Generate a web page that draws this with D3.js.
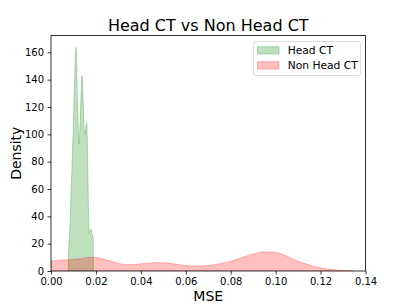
<!DOCTYPE html>
<html><head><meta charset="utf-8">
<script src="https://cdn.jsdelivr.net/npm/d3@7"></script>
<style>body{margin:0;background:#fff}svg{display:block}text{font-family:"DejaVu Sans",sans-serif}</style>
</head><body><svg id="c" width="407" height="305"></svg>
<script>
const title = "Head CT vs Non Head CT";
const seriesNames = ["Head CT", "Non Head CT"];
const headX = [0.00771,0.00772,0.0085,0.0093,0.0100,0.0106,0.01115,0.0118,0.01248,0.0130,0.01382,0.0143,0.01502,0.0155,0.01592,0.0163,0.0167,0.01708,0.01745,0.01783,0.0183,0.01886,0.01887];
const headY = [0,3,35,75,110,145,163.6,125,93,110,143,125,100,104,108.5,85,45,28,29,30.5,27,22.7,0];
const nonX = [0,0.004,0.0077,0.012,0.0181,0.022,0.027,0.034,0.040,0.0464,0.052,0.0597,0.065,0.070,0.075,0.0806,0.087,0.0954,0.1006,0.1095,0.115,0.1207,0.1288,0.1348];
const nonY = [7.3,7.9,8.3,8.8,10,9.3,7,4.6,5.3,6.1,5.8,4.0,3.6,4.0,5.3,7.5,11,14.1,13.4,7.5,4.3,2,0.5,0];
const xTicks = [0,0.02,0.04,0.06,0.08,0.10,0.12,0.14];
const yTicks = [0,20,40,60,80,100,120,140,160];
const colors = ["green","red"];

const svg = d3.select("#c");
const L=51, R=365.5, T=35.5, B=271;
const x = d3.scaleLinear().domain([0,0.14]).range([L,R]);
const y = d3.scaleLinear().domain([0,172.3]).range([B,T]);

const area = d3.area().x(d=>x(d[0])).y0(y(0)).y1(d=>y(d[1])).curve(d3.curveMonotoneX);
const series = [headX.map((v,i)=>[v,headY[i]]), nonX.map((v,i)=>[v,nonY[i]])];
const clip = svg.append("clipPath").attr("id","pc").append("rect").attr("x",L).attr("y",T).attr("width",R-L).attr("height",B-T);
const g = svg.append("g").attr("clip-path","url(#pc)");
series.forEach((s,i)=>{
  g.append("path").datum(s).attr("d",area)
   .attr("fill",colors[i]).attr("fill-opacity",0.25)
   .attr("stroke",colors[i]).attr("stroke-opacity",0.25).attr("stroke-width",1);
});

const xa = svg.append("g").attr("transform",`translate(0,${B})`)
  .call(d3.axisBottom(x).tickValues(xTicks).tickFormat(d3.format(".2f")).tickSizeOuter(0).tickSize(3.5).tickPadding(3.5));
const ya = svg.append("g").attr("transform",`translate(${L},0)`)
  .call(d3.axisLeft(y).tickValues(yTicks).tickSizeOuter(0).tickSize(3.5).tickPadding(3.5));
[xa,ya].forEach(a=>{a.select(".domain").remove();a.selectAll("text").attr("font-size","10px").attr("font-family","DejaVu Sans").attr("fill","#000");a.selectAll("line").attr("stroke","#000").attr("stroke-width",0.8);});

svg.append("rect").attr("x",L).attr("y",T).attr("width",R-L).attr("height",B-T)
  .attr("fill","none").attr("stroke","#000").attr("stroke-width",0.8);

svg.append("text").attr("x",(L+R)/2).attr("y",31).attr("text-anchor","middle").attr("font-size","16px").text(title);
svg.append("text").attr("x",(L+R)/2).attr("y",300.5).attr("text-anchor","middle").attr("font-size","14px").text("MSE");
svg.append("text").attr("transform",`translate(21,${(T+B)/2}) rotate(-90)`).attr("text-anchor","middle").attr("font-size","14px").text("Density");

const lg = svg.append("g");
lg.append("rect").attr("x",253.5).attr("y",41.5).attr("width",107).attr("height",34).attr("rx",2.5)
  .attr("fill","#fff").attr("fill-opacity",0.8).attr("stroke","#d6d6d6").attr("stroke-width",0.8);
seriesNames.forEach((n,i)=>{
  const yy = 46.7 + i*15;
  lg.append("rect").attr("x",257.5).attr("y",yy).attr("width",21.5).attr("height",7.3)
    .attr("fill",colors[i]).attr("fill-opacity",0.25).attr("stroke",colors[i]).attr("stroke-opacity",0.25).attr("stroke-width",1);
  lg.append("text").attr("x",287.7).attr("y",yy+7.3).attr("font-size","10.7px").text(n);
});
</script></body></html>
